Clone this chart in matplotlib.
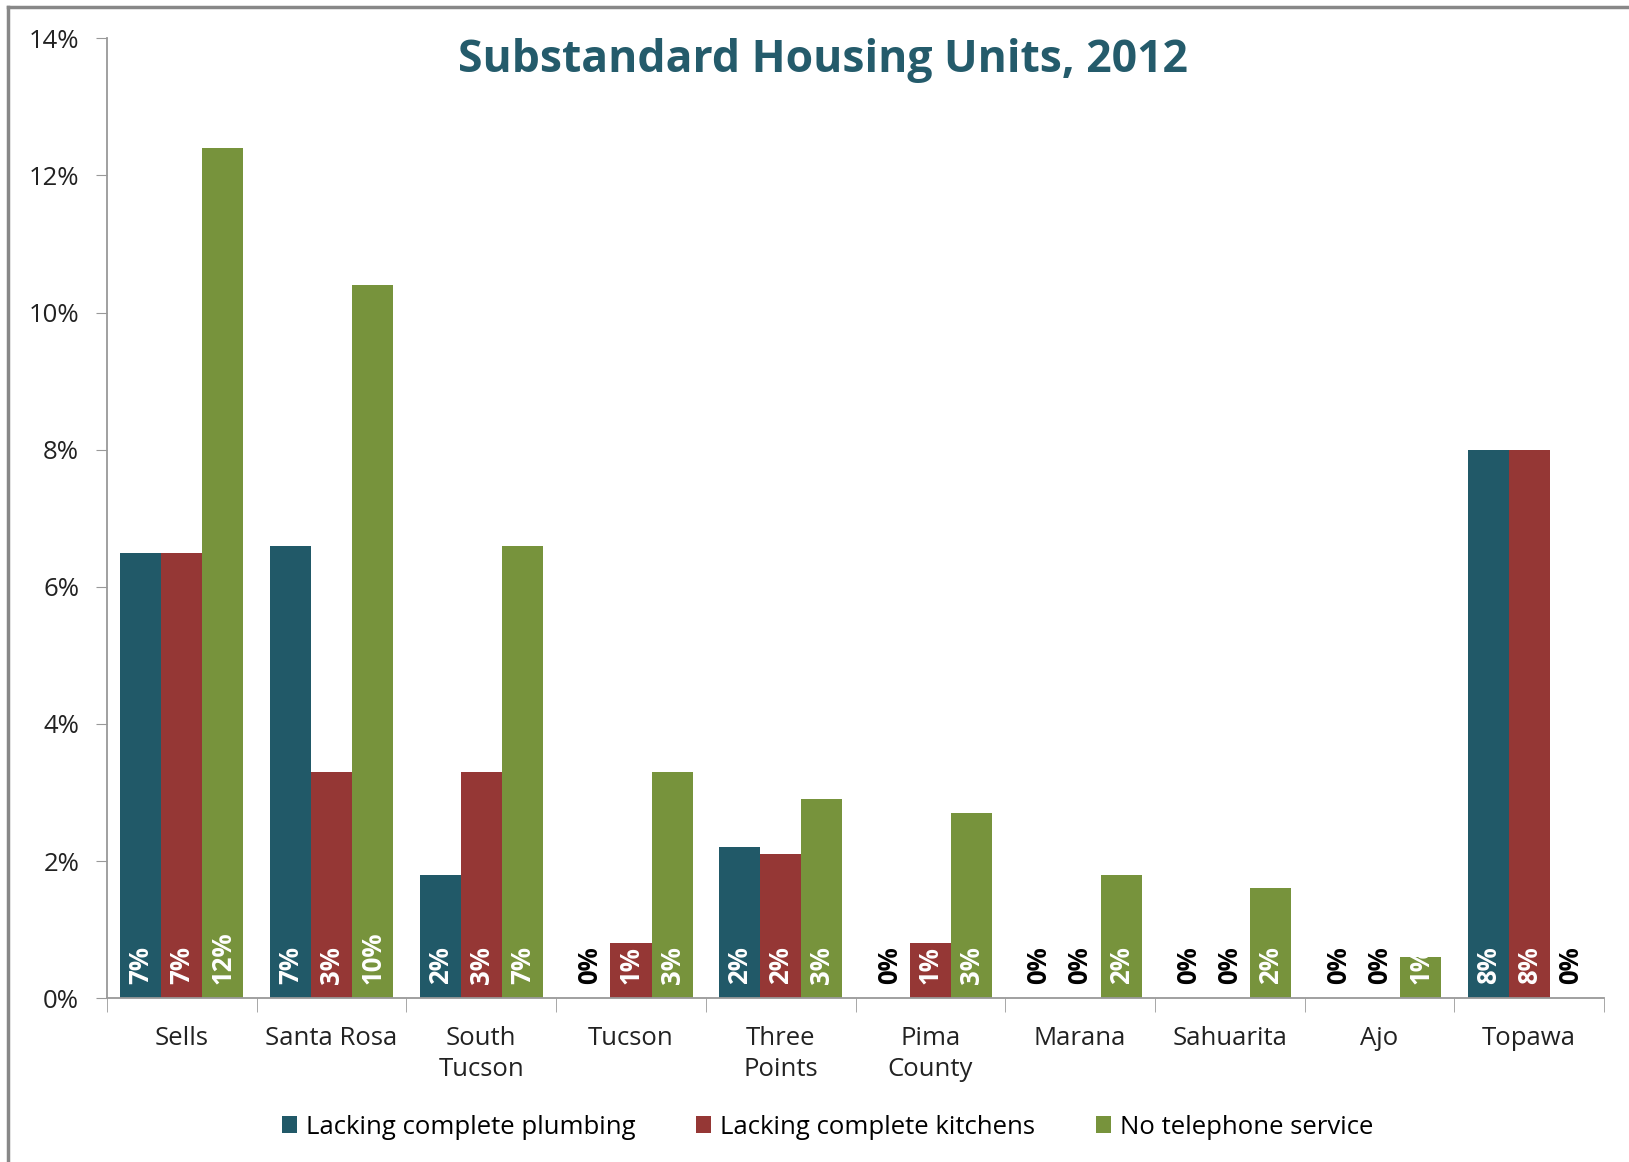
import numpy as np
import matplotlib.pyplot as plt
from matplotlib.lines import Line2D
from matplotlib.ticker import FixedLocator

plt.rcParams['font.family'] = ['Open Sans', 'DejaVu Sans']

places = ['Sells', 'Santa Rosa', 'South\nTucson', 'Tucson', 'Three\nPoints',
          'Pima\nCounty', 'Marana', 'Sahuarita', 'Ajo', 'Topawa']
plumbing = [6.5, 6.6, 1.8, 0, 2.2, 0, 0, 0, 0, 8.0]
kitchens = [6.5, 3.3, 3.3, 0.8, 2.1, 0.8, 0, 0, 0, 8.0]
telephone = [12.4, 10.4, 6.6, 3.3, 2.9, 2.7, 1.8, 1.6, 0.6, 0]
series_names = ['Lacking complete plumbing', 'Lacking complete kitchens', 'No telephone service']
colors = ['#215968', '#953735', '#77933C']

fig = plt.figure(figsize=(16.29, 11.62), dpi=100)
ax = fig.add_axes([0.0657, 0.141, 0.919, 0.826])

x = np.arange(len(places))
w = 0.274
for i, (vals, c) in enumerate(zip([plumbing, kitchens, telephone], colors)):
    xs = x + (i - 1) * w
    ax.bar(xs, vals, width=w, color=c, label=series_names[i])
    for xi, v in zip(xs, vals):
        lab = '%d%%' % int(v + 0.5)
        ax.text(xi, 0.2, lab, rotation=90, ha='center', va='bottom',
                fontsize=18.5, fontweight='bold',
                color='white' if v > 0 else 'black')

ax.set_xlim(-0.5, len(places) - 0.5)
ax.set_ylim(0, 14)
ax.set_yticks(np.arange(0, 15, 2))
ax.set_yticklabels(['%d%%' % t for t in range(0, 15, 2)], fontsize=18.5, color='#222222')
ax.set_xticks(x)
ax.set_xticklabels(places, fontsize=18.5, color='#222222', linespacing=1.3)
ax.xaxis.set_minor_locator(FixedLocator(np.arange(-0.5, len(places), 1)))
ax.tick_params(axis='x', which='major', length=0, pad=20)
ax.tick_params(axis='x', which='minor', length=10, color='#999999', direction='out')
ax.tick_params(axis='y', length=8, color='#999999', pad=12)

for s in ['top', 'right']:
    ax.spines[s].set_visible(False)
for s in ['left', 'bottom']:
    ax.spines[s].set_color('#999999')
    ax.spines[s].set_linewidth(1.3)

fig.text(0.505, 0.948, 'Substandard Housing Units, 2012', ha='center', va='center',
         fontsize=32, fontweight='bold', color='#245B6B')

ax.legend(loc='center', bbox_to_anchor=(0.508, 0.030), bbox_transform=fig.transFigure,
          ncol=3, frameon=False, fontsize=18.5, handlelength=0.6, handleheight=0.6,
          handletextpad=0.35, columnspacing=2.35)

# outer chart border (top and left only visible)
fig.add_artist(Line2D([0.005, 0.005], [0, 0.994], color='#888888', lw=2.5,
                      transform=fig.transFigure))
fig.add_artist(Line2D([0.005, 1], [0.994, 0.994], color='#888888', lw=2.5,
                      transform=fig.transFigure))

fig.savefig('out.png', dpi=100, facecolor='white')
